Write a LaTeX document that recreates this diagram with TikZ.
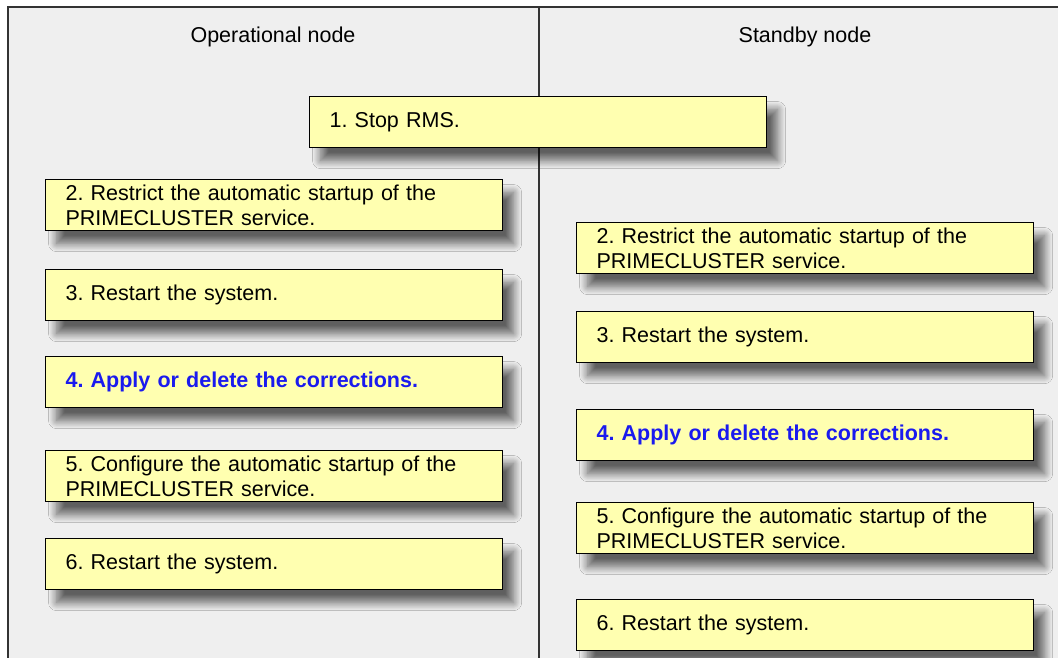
\documentclass[tikz,border=0pt]{standalone}
\usepackage{fontspec}
\setmainfont{Liberation Sans}
\usetikzlibrary{shadows.blur}
\definecolor{boxfill}{HTML}{FFFFB0}
\definecolor{panel}{HTML}{EFEFEF}
\definecolor{frame}{HTML}{333333}
\definecolor{stepblue}{HTML}{1A1AEE}
\tikzset{
  x=1pt, y=-1pt,
  stepbox/.style={draw=black, line width=1.2pt, fill=boxfill, anchor=north west,
    minimum width=457pt, minimum height=51pt, text width=417pt, inner xsep=20pt,
    inner ysep=0pt, align=left, font=\fontsize{21.5}{25}\selectfont,
    blur shadow={shadow xshift=11pt, shadow yshift=-13pt, shadow blur steps=14, shadow blur radius=8pt, shadow opacity=60}},
  hilite/.style={text=stepblue, font=\fontsize{21.5}{25}\selectfont\bfseries},
  heading/.style={font=\fontsize{21.5}{25}\selectfont, text=black}
}
\begin{document}
\frenchspacing
\begin{tikzpicture}
\useasboundingbox (0,0) rectangle (1058,657);
\clip (0,0) rectangle (1058,657);
\fill[white] (0,0) rectangle (1058,657);
\draw[frame, line width=2pt, fill=panel] (8,7) rectangle (1075,680);
\draw[frame, line width=2pt] (539,7) -- (539,680);
\node[heading] (hop) at (273,37) {Operational node};
\node[heading] (hsb) at (805,37) {Standby node};
\node[stepbox] (s1) at (309,96) {1. Stop RMS.};
\node[stepbox] (l2) at (45,179) {2. Restrict the automatic startup of the\\PRIMECLUSTER service.};
\node[stepbox] (l3) at (45,269) {3. Restart the system.};
\node[stepbox, hilite] (l4) at (45,356) {4. Apply or delete the corrections.};
\node[stepbox] (l5) at (45,450) {5. Configure the automatic startup of the\\PRIMECLUSTER service.};
\node[stepbox] (l6) at (45,538) {6. Restart the system.};
\node[stepbox] (r2) at (576,222) {2. Restrict the automatic startup of the\\PRIMECLUSTER service.};
\node[stepbox] (r3) at (576,311) {3. Restart the system.};
\node[stepbox, hilite] (r4) at (576,409) {4. Apply or delete the corrections.};
\node[stepbox] (r5) at (576,502) {5. Configure the automatic startup of the\\PRIMECLUSTER service.};
\node[stepbox] (r6) at (576,599) {6. Restart the system.};
\end{tikzpicture}
\end{document}
